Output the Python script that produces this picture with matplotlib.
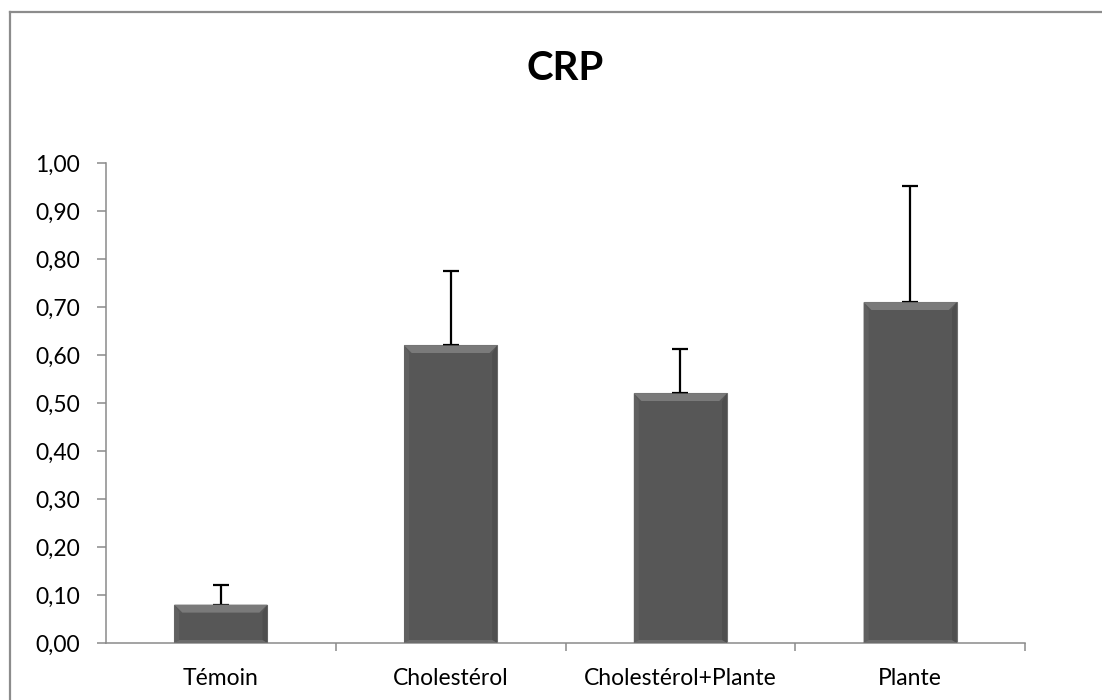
import matplotlib
matplotlib.use("Agg")
import matplotlib.pyplot as plt
from matplotlib.patches import Polygon
from matplotlib.lines import Line2D
import numpy as np

categories = ["Témoin", "Cholestérol", "Cholestérol+Plante", "Plante"]
means = [0.08, 0.62, 0.52, 0.71]
errors = [0.04, 0.155, 0.093, 0.242]
yticks = [0.0, 0.1, 0.2, 0.3, 0.4, 0.5, 0.6, 0.7, 0.8, 0.9, 1.0]
title = "CRP"

plt.rcParams['font.family'] = ['Lato', 'DejaVu Sans']

W, H = 1102, 700
fig = plt.figure(figsize=(W / 100, H / 100), dpi=100)
ax = fig.add_axes([106 / W, 1 - 643 / H, (1025 - 106) / W, (643 - 163) / H])

axis_col = "#8a8a8a"
bar_col = "#595959"

x = np.arange(len(categories))
bars = ax.bar(x, means, width=0.405, color=bar_col, edgecolor="#6e6e6e",
              linewidth=0.8, zorder=2)
ax.errorbar(x, means, yerr=[np.zeros(len(errors)), errors], fmt="none",
            ecolor="black", elinewidth=1.6, capsize=6, capthick=1.6, zorder=3)

ax.set_xlim(-0.5, len(categories) - 0.5)
ax.set_ylim(0, 1.0)
ax.set_yticks(yticks)
ax.set_yticklabels([f"{v:.2f}".replace(".", ",") for v in yticks], fontsize=16.5)
ax.set_xticks(x)
ax.set_xticklabels(categories, fontsize=16.5)
ax.set_xticks(np.arange(0.5, len(categories)), minor=True)
ax.tick_params(axis="x", which="major", length=0, pad=18)
ax.tick_params(axis="x", which="minor", length=6, width=1.1, color=axis_col)
ax.tick_params(axis="y", length=6.5, width=1.1, color=axis_col, pad=12)

for side in ("top", "right"):
    ax.spines[side].set_visible(False)
for side in ("left", "bottom"):
    ax.spines[side].set_color(axis_col)
    ax.spines[side].set_linewidth(1.1)

ax.set_title(title, fontsize=29, fontweight="bold", pad=60)

# bevel shading on each bar, built from the bar rectangles in pixel space
fig.canvas.draw()
inv = fig.transFigure.inverted()
bev = 8
for rect in bars:
    x0, y0 = rect.get_x(), rect.get_y()
    x1, y1 = x0 + rect.get_width(), y0 + rect.get_height()
    (px0, py0), (px1, py1) = ax.transData.transform([(x0, y0), (x1, y1)])
    b = min(bev, (py1 - py0) / 2)
    s = 5
    faces = [
        ([(px0, py1), (px1, py1), (px1 - b, py1 - b), (px0 + b, py1 - b)], "#7a7a7a"),
        ([(px0, py1), (px0 + s, py1 - b), (px0 + s, py0 + 3), (px0, py0)], "#606060"),
        ([(px1, py1), (px1 - s, py1 - b), (px1 - s, py0 + 3), (px1, py0)], "#4e4e4e"),
        ([(px0, py0), (px1, py0), (px1 - s, py0 + 3), (px0 + s, py0 + 3)], "#6c6c6c"),
        ([(px0 + s, py1 - b), (px1 - s, py1 - b), (px1 - s, py0 + 3), (px0 + s, py0 + 3)], "#575757"),
    ]
    for pts, col in faces:
        fig.add_artist(Polygon(inv.transform(pts), closed=True, facecolor=col,
                               edgecolor="none", zorder=2.5))

# chart frame
fig.add_artist(Line2D([9.5 / W, 1.0], [1 - 11.5 / H, 1 - 11.5 / H],
                      color="#8c8c8c", linewidth=1.6))
fig.add_artist(Line2D([9.5 / W, 9.5 / W], [0, 1 - 11.5 / H],
                      color="#8c8c8c", linewidth=1.6))

fig.savefig("out.png", dpi=100)
